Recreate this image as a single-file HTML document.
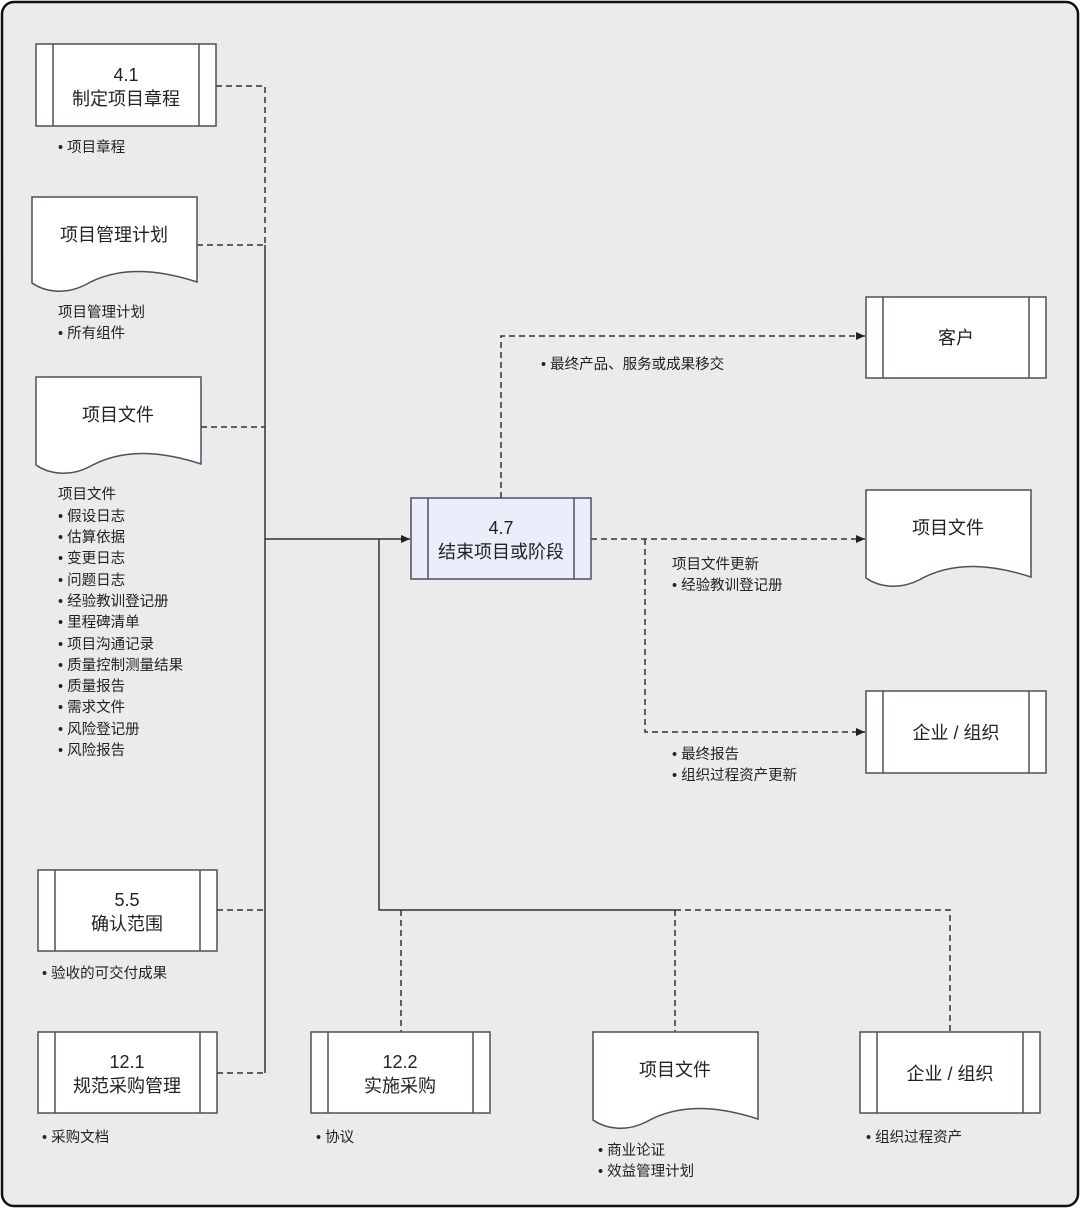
<!DOCTYPE html>
<html><head><meta charset="utf-8"><style>
html,body{margin:0;padding:0;background:#fff;}
svg{display:block;}
text{font-family:"Liberation Sans","Noto Sans CJK SC",sans-serif;fill:#222;}
.t{font-size:18px;text-anchor:middle;}
.s{font-size:14.5px;}
</style></head><body>
<svg width="1080" height="1208" viewBox="0 0 1080 1208" xmlns="http://www.w3.org/2000/svg">
<defs><marker id="a" markerWidth="10" markerHeight="10" refX="9" refY="5" orient="auto" markerUnits="userSpaceOnUse"><path d="M0,1 L9,5 L0,9 z" fill="#222"/></marker></defs>
<rect x="2" y="2" width="1076" height="1204" rx="12" fill="#ebebeb" stroke="#111" stroke-width="2.5"/>
<g fill="none" stroke="#333" stroke-width="1.5">
<path d="M216,86 H265 V245" stroke-dasharray="6,4"/>
<path d="M197,245 H265" stroke-dasharray="6,4"/>
<path d="M201,427 H265" stroke-dasharray="6,4"/>
<path d="M217,910 H265" stroke-dasharray="6,4"/>
<path d="M217,1073 H265" stroke-dasharray="6,4"/>
<path d="M265,245 V1073"/>
<path d="M265,539 H410" marker-end="url(#a)"/>
<path d="M379,539 V910 H675"/>
<path d="M675,910 H950 V1032" stroke-dasharray="6,4"/>
<path d="M401,910 V1032" stroke-dasharray="6,4"/>
<path d="M675,910 V1032" stroke-dasharray="6,4"/>
<path d="M501,498 V336 H865" stroke-dasharray="6,4" marker-end="url(#a)"/>
<path d="M591,539 H865" stroke-dasharray="6,4" marker-end="url(#a)"/>
<path d="M645,539 V732 H865" stroke-dasharray="6,4" marker-end="url(#a)"/>
</g>
<g stroke="#4a5060" stroke-width="1.5" fill="#fff">
<rect x="36" y="44" width="180" height="82"/><path d="M53,44V126M199,44V126"/>
<rect x="38" y="870" width="179" height="81"/><path d="M55,870V951M200,870V951"/>
<rect x="38" y="1032" width="179" height="81"/><path d="M55,1032V1113M200,1032V1113"/>
<rect x="311" y="1032" width="179" height="81"/><path d="M328,1032V1113M473,1032V1113"/>
<rect x="860" y="1032" width="180" height="81"/><path d="M877,1032V1113M1023,1032V1113"/>
<rect x="866" y="297" width="180" height="81"/><path d="M883,297V378M1029,297V378"/>
<rect x="866" y="691" width="180" height="82"/><path d="M883,691V773M1029,691V773"/>
<rect x="411" y="498" width="180" height="81" fill="#e9eefa"/><path d="M428,498V579M574,498V579" fill="none"/>
<path d="M32,197 H197 V282 C160,270 120,265 85,285 C65,295 45,292 32,283 Z"/>
<path d="M36,377 H201 V464 C164,452 124,447 89,467 C69,477 49,474 36,465 Z"/>
<path d="M593,1032 H758 V1119 C721,1107 681,1102 646,1122 C626,1132 606,1129 593,1120 Z"/>
<path d="M866,490 H1031 V577 C994,565 954,560 919,580 C899,590 879,587 866,578 Z"/>
</g>
<text class="t" x="126" y="81">4.1</text><text class="t" x="126" y="105">制定项目章程</text>
<text class="t" x="114" y="241">项目管理计划</text>
<text class="t" x="118" y="421">项目文件</text>
<text class="t" x="127" y="906">5.5</text><text class="t" x="127" y="930">确认范围</text>
<text class="t" x="127" y="1068">12.1</text><text class="t" x="127" y="1092">规范采购管理</text>
<text class="t" x="400" y="1068">12.2</text><text class="t" x="400" y="1092">实施采购</text>
<text class="t" x="675" y="1076">项目文件</text>
<text class="t" x="950" y="1080">企业 / 组织</text>
<text class="t" x="956" y="344">客户</text>
<text class="t" x="948" y="534">项目文件</text>
<text class="t" x="956" y="739">企业 / 组织</text>
<text class="t" x="501" y="534">4.7</text><text class="t" x="501" y="558">结束项目或阶段</text>
<g>
<text class="s" x="58" y="152">• 项目章程</text>
<text class="s" x="58" y="317">项目管理计划</text>
<text class="s" x="58" y="338">• 所有组件</text>
<text class="s" x="58" y="499">项目文件</text>
<text class="s" x="58" y="521">• 假设日志</text>
<text class="s" x="58" y="542">• 估算依据</text>
<text class="s" x="58" y="563">• 变更日志</text>
<text class="s" x="58" y="585">• 问题日志</text>
<text class="s" x="58" y="606">• 经验教训登记册</text>
<text class="s" x="58" y="627">• 里程碑清单</text>
<text class="s" x="58" y="649">• 项目沟通记录</text>
<text class="s" x="58" y="670">• 质量控制测量结果</text>
<text class="s" x="58" y="691">• 质量报告</text>
<text class="s" x="58" y="712">• 需求文件</text>
<text class="s" x="58" y="734">• 风险登记册</text>
<text class="s" x="58" y="755">• 风险报告</text>
<text class="s" x="42" y="978">• 验收的可交付成果</text>
<text class="s" x="42" y="1142">• 采购文档</text>
<text class="s" x="316" y="1142">• 协议</text>
<text class="s" x="598" y="1155">• 商业论证</text>
<text class="s" x="598" y="1176">• 效益管理计划</text>
<text class="s" x="866" y="1142">• 组织过程资产</text>
<text class="s" x="541" y="369">• 最终产品、服务或成果移交</text>
<text class="s" x="672" y="569">项目文件更新</text>
<text class="s" x="672" y="590">• 经验教训登记册</text>
<text class="s" x="672" y="759">• 最终报告</text>
<text class="s" x="672" y="780">• 组织过程资产更新</text>
</g>
</svg>
</body></html>
